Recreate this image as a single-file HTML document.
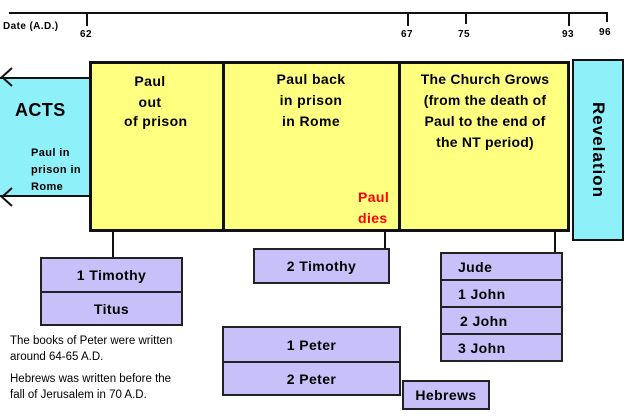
<!DOCTYPE html>
<html><head><style>
body{margin:0;width:633px;height:416px;background:#fff;position:relative;overflow:hidden;font-family:"Liberation Sans",Arial,sans-serif;font-weight:bold;letter-spacing:0.4px}
.a{position:absolute}
.t{position:absolute;font-size:10px}
.b{position:absolute;background:#c8c0f8;border:2px solid #222;box-sizing:border-box;text-align:center;font-size:14px;display:flex;align-items:center;justify-content:center}
.l{position:absolute;background:#111}
</style></head><body>
<div class="l" style="left:9px;top:12px;width:599px;height:2px"></div>
<div class="l" style="left:86px;top:12px;width:2px;height:14px"></div>
<div class="l" style="left:407px;top:12px;width:2px;height:14px"></div>
<div class="l" style="left:465px;top:12px;width:2px;height:12px"></div>
<div class="l" style="left:568px;top:12px;width:2px;height:14px"></div>
<div class="l" style="left:606px;top:12px;width:2px;height:10px"></div>
<div class="t" style="left:3px;top:21px">Date (A.D.)</div>
<div class="t" style="left:80px;top:29px">62</div>
<div class="t" style="left:401px;top:29px">67</div>
<div class="t" style="left:458px;top:29px">75</div>
<div class="t" style="left:562px;top:29px">93</div>
<div class="t" style="left:599px;top:27px">96</div>

<div class="a" style="left:0;top:77px;width:90px;height:120px;background:#8ef0f8;border-top:2px solid #111;border-bottom:2px solid #111;box-sizing:border-box"></div>
<svg class="a" style="left:0;top:66px" width="20" height="145"><polyline points="12,2 2,11 12,20" fill="none" stroke="#111" stroke-width="2"/><polyline points="12,122 2,131 12,140" fill="none" stroke="#111" stroke-width="2"/></svg>
<div class="a" style="left:15px;top:100px;font-size:18px">ACTS</div>
<div class="a" style="left:31px;top:145px;font-size:11px;line-height:17px">Paul in<br>prison in<br>Rome</div>

<div class="a" style="left:89px;top:61px;width:481px;height:171px;background:#ffff80;border:3px solid #111;box-sizing:border-box"></div>
<div class="l" style="left:222px;top:62px;width:3px;height:168px"></div>
<div class="l" style="left:398px;top:62px;width:3px;height:168px"></div>
<div class="a" style="left:120px;top:71px;font-size:14px;line-height:21px;text-align:center;width:60px">Paul<br>out</div>
<div class="a" style="left:124px;top:113px;font-size:14px">of prison</div>
<div class="a" style="left:225px;top:69px;width:172px;font-size:14px;line-height:21px;text-align:center">Paul back<br>in prison<br>in Rome</div>
<div class="a" style="left:358px;top:187px;font-size:14px;line-height:21px;color:#f00">Paul<br>dies</div>
<div class="a" style="left:401px;top:69px;width:168px;font-size:14px;line-height:21px;text-align:center;letter-spacing:0.2px">The Church Grows<br>(from the death of<br>Paul to the end of<br>the NT period)</div>

<div class="a" style="left:572px;top:59px;width:52px;height:182px;background:#8ef0f8;border:2px solid #111;box-sizing:border-box"></div>
<div class="a" style="left:598px;top:150px;font-size:17px;transform:translate(-50%,-50%) rotate(90deg);white-space:nowrap;letter-spacing:1px">Revelation</div>

<div class="l" style="left:112px;top:231px;width:2px;height:27px"></div>
<div class="l" style="left:384px;top:231px;width:2px;height:19px"></div>
<div class="l" style="left:554px;top:231px;width:2px;height:22px"></div>

<div class="b" style="left:40px;top:257px;width:143px;height:36px">1 Timothy</div>
<div class="b" style="left:40px;top:291px;width:143px;height:35px">Titus</div>
<div class="b" style="left:253px;top:248px;width:137px;height:36px">2 Timothy</div>
<div class="b" style="left:440px;top:252px;width:123px;height:29px;justify-content:flex-start;padding-left:16px">Jude</div>
<div class="b" style="left:440px;top:279px;width:123px;height:29px;justify-content:flex-start;padding-left:16px">1 John</div>
<div class="b" style="left:440px;top:306px;width:123px;height:29px;justify-content:flex-start;padding-left:18px">2 John</div>
<div class="b" style="left:440px;top:333px;width:123px;height:29px;justify-content:flex-start;padding-left:16px">3 John</div>
<div class="b" style="left:222px;top:326px;width:179px;height:37px">1 Peter</div>
<div class="b" style="left:222px;top:361px;width:179px;height:35px">2 Peter</div>
<div class="b" style="left:402px;top:380px;width:88px;height:30px">Hebrews</div>

<div class="a" style="left:10px;top:333px;font-size:11.5px;font-weight:normal;line-height:16px;letter-spacing:0">The books of Peter were written<br>around 64-65 A.D.</div>
<div class="a" style="left:10px;top:371px;font-size:11.5px;font-weight:normal;line-height:16px;letter-spacing:0">Hebrews was written before the<br>fall of Jerusalem in 70 A.D.</div>
</body></html>
